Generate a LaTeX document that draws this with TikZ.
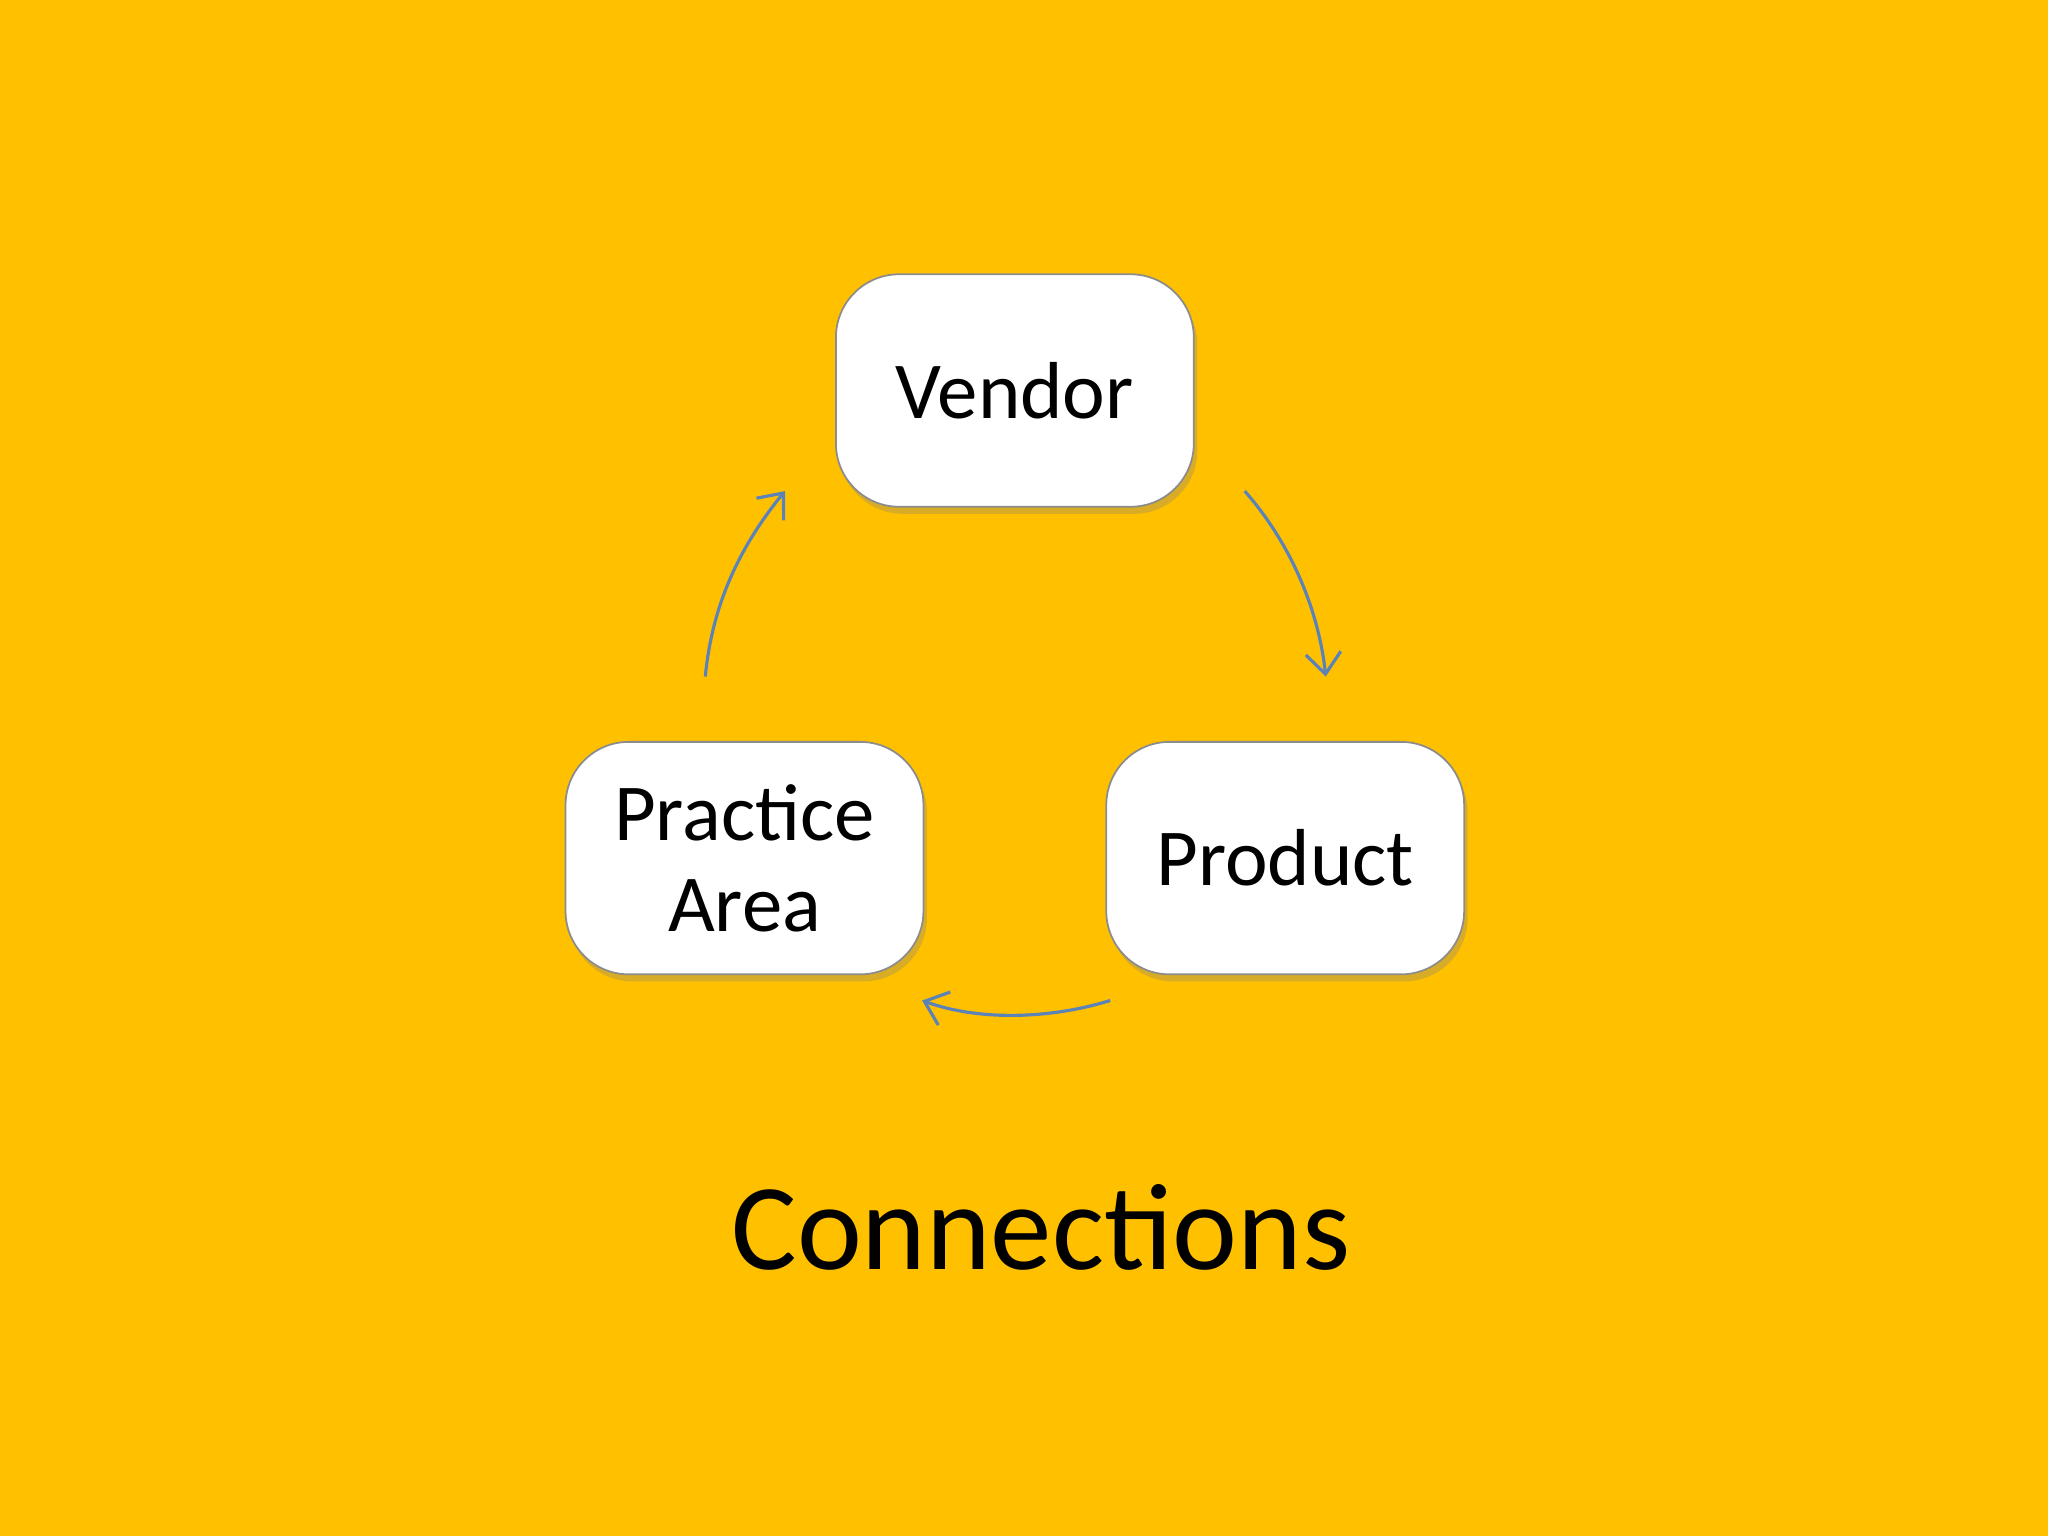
\documentclass[tikz,border=0pt]{standalone}
\usepackage{fontspec}
\setmainfont{Carlito}
\usetikzlibrary{arrows.meta,shadows}
\definecolor{bg}{HTML}{FFC000}
\definecolor{arr}{HTML}{5B83B8}
\tikzset{
 box/.style={draw=black!45, line width=0.5pt, fill=white, rounded corners=18pt, minimum width=274\un, minimum height=178\un, align=center, font=\fontsize{23}{28}\selectfont, drop shadow={shadow xshift=1pt, shadow yshift=-2pt, opacity=0.3}},
 conn/.style={draw=arr, line width=0.9pt, -{Straight Barb[length=6pt,width=10pt]}}
}
\newlength{\un}\setlength{\un}{0.01306cm}
\begin{document}
\begin{tikzpicture}[x=0.01306cm,y=-0.01306cm]
\fill[bg] (0,0) rectangle (1568,1176);
\useasboundingbox (0,0) rectangle (1568,1176);
\node[box] (vendor) at (777,299) {Vendor};
\node[box] (practice) at (570,657) {Practice\\[-2pt]Area};
\node[box] (product) at (984,657) {Product};
\coordinate (a1) at (953,376); \coordinate (a2) at (1015,518);
\coordinate (b1) at (850,766); \coordinate (b2) at (706,766);
\coordinate (c1) at (540,518); \coordinate (c2) at (601,376);
\draw[conn] (a1) .. controls (990,418) and (1010,470) .. (a2);
\draw[conn] (b1) .. controls (805,780) and (750,782) .. (b2);
\draw[conn] (c1) .. controls (545,465) and (565,420) .. (c2);
\node[font=\fontsize{35}{40}\selectfont] (title) at (797,940) {Connections};
\end{tikzpicture}
\end{document}
